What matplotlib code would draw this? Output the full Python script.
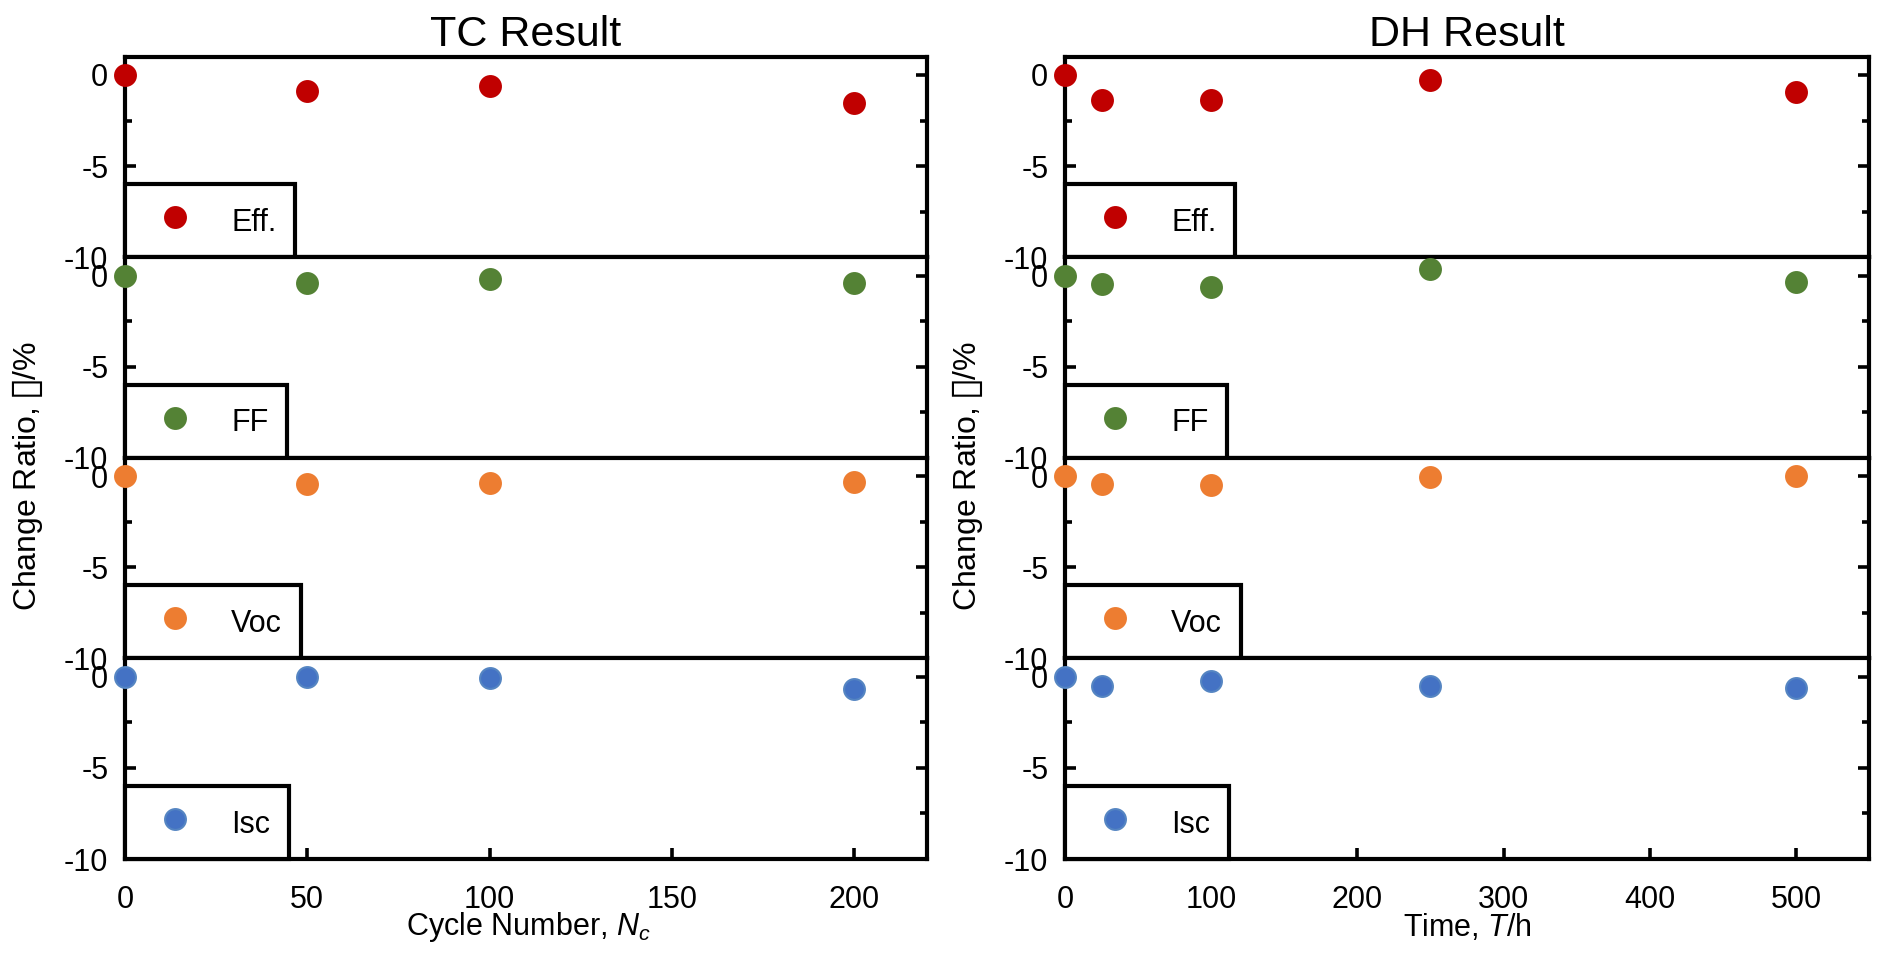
import matplotlib
matplotlib.use("Agg")
import matplotlib.pyplot as plt
from matplotlib.ticker import MultipleLocator

plt.rcParams['font.family'] = ['Liberation Sans', 'DejaVu Sans']
plt.rcParams['mathtext.fontset'] = 'custom'
plt.rcParams['mathtext.rm'] = 'Liberation Sans'
plt.rcParams['mathtext.it'] = 'Liberation Sans:italic'

# ---------------- data ----------------
series_names = ["Eff.", "FF", "Voc", "Isc"]
series_colors = ["#C00000", "#548235", "#ED7D31", "#4472C4"]
edge_colors = ["#C00000", "#548235", "#ED7D31", "#5585C2"]

tc_cycles = [0, 50, 100, 200]
tc_eff = [0.0, -0.9, -0.6, -1.55]
tc_ff = [0.0, -0.43, -0.17, -0.43]
tc_voc = [0.0, -0.43, -0.36, -0.3]
tc_isc = [0.0, 0.0, -0.05, -0.7]

dh_hours = [0, 25, 100, 250, 500]
dh_eff = [0.0, -1.4, -1.4, -0.3, -0.95]
dh_ff = [0.0, -0.45, -0.65, 0.35, -0.36]
dh_voc = [0.0, -0.43, -0.5, -0.05, 0.03]
dh_isc = [0.0, -0.5, -0.25, -0.5, -0.6]

tc_series = [tc_eff, tc_ff, tc_voc, tc_isc]
dh_series = [dh_eff, dh_ff, dh_voc, dh_isc]

y_ticks = [0, -5, -10]
tc_xticks = [0, 50, 100, 150, 200]
dh_xticks = [0, 100, 200, 300, 400, 500]

# ---------------- figure ----------------
W, H = 1883, 980
fig = plt.figure(figsize=(W / 100, H / 100), dpi=100)

top = 1 - 56.7 / H
bottom = 1 - 859 / H
LW = 3.0
FS = 22

def make_column(left_px, right_px, xs, series, xlim, xticks, title):
    gs = fig.add_gridspec(4, 1, left=left_px / W, right=right_px / W,
                          top=top, bottom=bottom, hspace=0)
    axes = []
    for i in range(4):
        ax = fig.add_subplot(gs[i, 0])
        ax.plot(xs, series[i], linestyle='none', marker='o', ms=15,
                color=series_colors[i], mec=edge_colors[i], mew=1.5,
                clip_on=False, zorder=5, label=series_names[i])
        ax.set_xlim(*xlim)
        ax.set_ylim(-10, 1)
        ax.set_yticks(y_ticks)
        ax.set_yticklabels([str(v) for v in y_ticks])
        ax.yaxis.set_minor_locator(MultipleLocator(2.5))
        ax.tick_params(axis='y', which='major', direction='in', length=8, width=2.6,
                       left=True, right=True, labelsize=FS, pad=12)
        ax.tick_params(axis='y', which='minor', direction='in', length=5, width=2.6,
                       left=True, right=True)
        for sp in ax.spines.values():
            sp.set_linewidth(LW)
            sp.set_color('black')
        if i < 3:
            ax.tick_params(axis='x', which='both', bottom=False, top=False,
                           labelbottom=False)
        else:
            ax.set_xticks(xticks)
            ax.tick_params(axis='x', which='major', direction='in', length=8, width=2.6,
                           bottom=True, top=False, labelsize=FS, pad=19)
        leg = ax.legend(loc='lower left', bbox_to_anchor=(0, 0), borderaxespad=0,
                        fancybox=False, framealpha=1, edgecolor='black',
                        fontsize=FS, borderpad=0.62, handlelength=2.05,
                        handletextpad=0.8, handleheight=1.4, numpoints=1)
        leg.get_frame().set_linewidth(LW)
        leg.set_zorder(4)
        axes.append(ax)
    axes[0].set_title(title, fontsize=31, pad=8)
    return axes

left_axes = make_column(125, 927, tc_cycles, tc_series, (0, 220), tc_xticks, "TC Result")
right_axes = make_column(1065, 1869, dh_hours, dh_series, (0, 550), dh_xticks, "DH Result")

ylabel = "Change Ratio, $\\mathit{\u25AF}$/%"
fig.text(28 / W, 1 - 476 / H, ylabel, rotation=90, ha='center', va='center', fontsize=23)
fig.text(968 / W, 1 - 476 / H, ylabel, rotation=90, ha='center', va='center', fontsize=23)

fig.text(528 / W, 1 - 927 / H, "Cycle Number, $N_c$", ha='center', va='center', fontsize=FS)
fig.text(1467 / W, 1 - 927 / H, "Time, $T$/h", ha='center', va='center', fontsize=FS)

fig.savefig("out.png", dpi=100)
